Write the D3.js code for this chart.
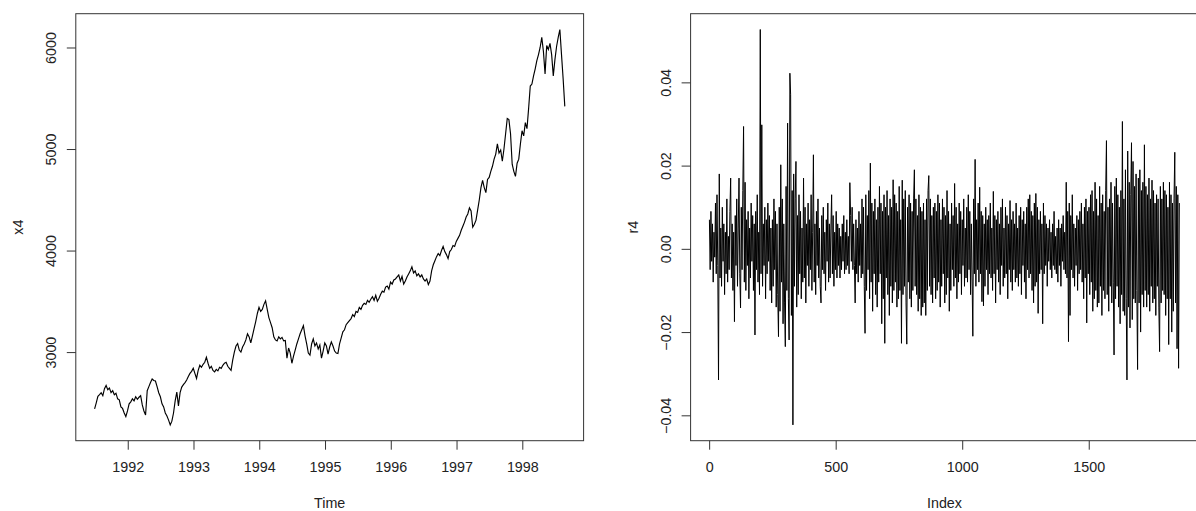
<!DOCTYPE html>
<html>
<head>
<meta charset="utf-8">
<script src="https://cdn.jsdelivr.net/npm/d3@7"></script>
<style>
  html, body { margin: 0; padding: 0; background: #fff; }
  svg { display: block; }
  text { font-family: "Liberation Sans", Arial, Helvetica, sans-serif; fill: #222; }
</style>
</head>
<body>
<svg id="chart" width="1196" height="511"></svg>
<script>
// FTSE daily closing index (x4), sampled evenly over the series span
const x4Start = 1991.4962;
const x4End = 1998.6462;
const x4 = [
  2441,2500,2565,2580,2600,2570,2640,2671,2630,2645,
  2600,2620,2580,2595,2540,2530,2460,2445,2400,2365,
  2420,2490,2510,2540,2520,2560,2535,2555,2570,2480,
  2420,2380,2620,2660,2700,2735,2720,2715,2660,2600,
  2560,2490,2460,2400,2370,2330,2283,2320,2400,2520,
  2605,2470,2600,2655,2680,2700,2725,2760,2790,2810,
  2840,2790,2740,2820,2870,2850,2880,2900,2950,2890,
  2840,2860,2820,2805,2830,2815,2850,2840,2870,2890,
  2900,2860,2840,2820,2920,3000,3060,3083,3020,3000,
  3050,3080,3120,3180,3150,3090,3160,3230,3300,3380,
  3440,3400,3420,3470,3505,3420,3340,3290,3240,3150,
  3120,3110,3150,3130,3145,3110,3115,2940,3040,2990,
  2890,2960,3020,3080,3130,3180,3220,3260,3160,3080,
  2990,2970,3080,3130,3060,3090,3030,3070,2940,3010,
  3090,3060,2980,3050,3100,3060,3010,2990,2985,3080,
  3140,3200,3220,3270,3290,3310,3330,3370,3350,3400,
  3390,3440,3420,3460,3480,3470,3510,3490,3520,3545,
  3510,3560,3500,3530,3570,3600,3590,3640,3650,3620,
  3690,3670,3710,3720,3740,3760,3700,3745,3670,3700,
  3740,3770,3800,3840,3780,3800,3750,3770,3740,3760,
  3720,3700,3720,3665,3700,3800,3860,3900,3940,3970,
  3950,4000,4040,3990,3960,3920,3990,4010,4050,4040,
  4090,4120,4150,4200,4240,4280,4330,4360,4420,4390,
  4230,4260,4300,4400,4500,4620,4690,4620,4570,4700,
  4720,4780,4830,4900,4950,5050,4960,4990,4880,5000,
  5150,5300,5290,5150,4850,4780,4730,4860,4900,5050,
  5180,5130,5260,5200,5400,5620,5640,5720,5790,5870,
  5930,6000,6100,5960,5740,6020,5980,6040,5930,5720,
  5880,6010,6100,6177,5930,5690,5420
];
const x4Ticks = [1992, 1993, 1994, 1995, 1996, 1997, 1998];
const x4YTicks = [3000, 4000, 5000, 6000];

// daily log returns (r4), one value every r4Step observations from index 1
const r4Length = 1859;
const r4Step = 3;
const r4 = [
  0.007,-0.005,0.009,-0.003,0.006,-0.008,0.004,-0.002,0.011,-0.006,
  0.013,-0.004,-0.0315,0.018,-0.007,0.005,-0.009,0.010,-0.003,0.006,
  -0.011,0.004,-0.006,0.012,-0.008,0.003,-0.005,0.009,0.017,-0.007,
  0.006,-0.010,0.004,-0.0175,0.008,-0.004,0.012,-0.009,0.005,0.017,
  -0.006,-0.0142,0.010,-0.005,0.014,0.0294,-0.008,0.016,-0.010,0.007,
  -0.004,0.009,-0.012,0.005,-0.007,0.011,-0.003,0.008,-0.010,0.006,
  -0.0207,0.009,-0.005,0.013,-0.008,0.004,-0.011,0.0527,-0.006,0.0298,
  -0.009,0.006,-0.004,0.010,-0.012,0.007,-0.006,0.011,-0.003,0.008,
  -0.010,0.005,-0.013,0.007,-0.009,0.012,-0.005,0.009,-0.014,0.006,
  -0.011,-0.0211,0.010,-0.015,0.0202,-0.008,0.012,-0.018,0.006,-0.013,
  -0.0235,0.015,-0.010,0.0302,-0.012,-0.0219,0.0422,0.0370,-0.016,0.014,
  -0.0423,0.018,-0.009,0.012,0.021,-0.014,0.008,-0.011,0.013,-0.006,
  0.009,-0.012,0.005,-0.008,0.017,-0.007,0.010,-0.013,0.006,-0.004,
  0.011,-0.009,0.007,-0.005,0.013,-0.010,0.004,0.0226,-0.008,0.006,
  -0.011,0.009,-0.004,0.012,-0.007,0.005,-0.009,-0.013,0.008,-0.005,
  0.010,-0.006,0.004,-0.010,0.007,-0.003,0.011,-0.008,0.006,-0.007,
  0.005,0.013,-0.006,0.008,-0.009,0.004,-0.005,0.009,-0.007,0.006,
  -0.004,0.005,-0.007,0.003,-0.005,0.006,-0.003,0.008,-0.006,0.004,
  -0.005,0.007,-0.004,0.003,-0.006,0.0159,0.008,-0.003,0.010,-0.005,
  0.006,-0.004,-0.013,0.007,-0.006,0.005,-0.008,0.009,-0.004,0.006,
  -0.007,0.012,-0.006,0.010,-0.009,-0.0203,0.013,-0.010,0.008,-0.005,
  0.014,-0.012,0.0206,-0.008,0.011,-0.015,0.009,-0.006,0.012,-0.011,
  0.007,-0.014,0.010,-0.008,0.015,-0.006,0.011,-0.018,0.009,-0.012,
  0.013,-0.0227,0.010,-0.007,0.014,-0.011,0.008,-0.016,0.012,-0.009,
  0.010,-0.013,0.0166,-0.010,0.013,-0.008,0.011,-0.014,0.009,-0.012,
  0.015,-0.010,0.007,-0.0227,0.0165,-0.011,0.012,-0.009,0.014,-0.013,
  -0.0229,0.010,-0.008,0.013,-0.012,0.011,-0.014,0.009,-0.010,0.012,
  0.019,-0.009,0.012,-0.011,0.008,-0.015,0.013,-0.012,0.010,-0.016,
  0.009,-0.014,0.011,-0.013,0.007,-0.016,0.012,-0.010,0.014,0.0176,
  -0.009,0.012,-0.011,0.008,-0.013,0.010,-0.007,0.011,-0.012,0.009,
  -0.010,0.013,-0.008,0.011,-0.014,0.007,-0.009,0.012,-0.006,0.010,
  -0.013,0.008,-0.011,0.014,-0.007,0.009,-0.015,0.006,-0.010,0.011,
  -0.005,0.008,-0.009,0.0157,-0.007,0.010,-0.012,0.006,-0.008,0.011,
  -0.006,0.009,-0.011,0.007,-0.004,0.012,-0.009,0.005,-0.007,0.010,
  -0.008,0.013,-0.005,0.009,-0.011,0.006,-0.007,-0.021,0.012,-0.006,
  0.0215,-0.009,0.007,-0.005,0.011,-0.008,0.0148,-0.006,0.009,-0.0127,
  0.008,-0.0137,0.006,-0.009,0.010,-0.005,0.007,-0.011,0.008,-0.006,
  0.011,-0.007,0.005,-0.010,0.0138,-0.006,0.008,-0.013,0.007,-0.005,
  0.009,-0.008,0.006,-0.011,0.010,-0.004,0.012,-0.009,0.005,-0.007,
  0.010,-0.006,0.008,-0.012,0.006,-0.005,0.0116,-0.008,0.007,-0.010,
  0.009,-0.005,0.006,-0.008,0.011,-0.007,0.005,-0.009,0.008,-0.006,
  0.010,-0.011,0.007,-0.004,0.009,-0.008,0.006,-0.012,0.010,-0.005,
  0.012,-0.007,0.013,-0.006,0.009,-0.010,0.008,-0.013,0.011,-0.009,
  0.0133,-0.008,0.010,-0.0155,0.007,-0.006,0.009,-0.005,0.006,-0.018,
  0.011,-0.006,0.008,-0.004,0.006,-0.009,0.005,-0.003,0.007,-0.005,
  0.004,-0.007,0.006,-0.004,0.009,-0.005,0.003,-0.006,0.005,-0.008,
  0.007,-0.004,0.005,-0.009,0.006,-0.003,0.008,-0.005,0.004,-0.006,
  0.016,-0.007,0.009,-0.0223,0.011,-0.016,0.008,-0.005,0.013,-0.007,
  0.006,-0.009,0.005,-0.004,0.008,-0.010,0.007,-0.006,0.009,-0.005,
  0.011,-0.008,0.006,-0.012,0.010,-0.007,0.012,-0.0178,0.009,-0.006,
  0.010,-0.011,0.013,-0.008,0.014,-0.015,0.009,-0.012,0.016,-0.010,
  0.012,-0.014,0.008,-0.013,0.015,-0.009,0.011,-0.016,0.013,-0.010,
  0.009,-0.012,0.014,0.026,-0.011,0.010,-0.015,0.012,-0.009,0.016,
  -0.013,0.011,-0.008,-0.0255,0.015,-0.012,0.017,-0.009,0.013,-0.014,
  0.010,-0.018,0.014,-0.011,0.0306,-0.015,0.012,-0.016,0.019,-0.012,
  -0.0315,0.0235,-0.014,0.016,-0.019,0.013,0.0255,-0.017,0.021,-0.012,
  0.015,-0.013,0.018,-0.010,-0.029,0.017,-0.013,0.019,-0.020,0.014,
  -0.011,0.016,-0.014,0.025,-0.010,0.015,-0.014,0.013,-0.011,0.017,
  -0.015,0.012,-0.009,0.0165,-0.013,0.014,-0.012,0.011,-0.016,0.013,
  -0.009,0.012,-0.014,-0.0247,0.015,-0.013,0.012,-0.010,0.016,-0.011,
  0.014,-0.016,0.013,-0.012,0.010,-0.023,0.016,-0.012,0.013,-0.020,
  0.011,-0.015,0.012,0.0232,-0.013,0.015,-0.024,0.013,-0.0287,0.011
];
const r4XTicks = [0, 500, 1000, 1500];
const r4YTicks = [-0.04, -0.02, 0.00, 0.02, 0.04];

const svg = d3.select("#chart");
const FONT = 14.3;

// R-style axis limits: data range widened by 4% on each side
function rLim(lo, hi) { const d = (hi - lo) * 0.04; return [lo - d, hi + d]; }

function drawPanel(o) {
  const g = svg.append("g");
  const x = d3.scaleLinear().domain(o.xlim).range([o.left, o.right]);
  const y = d3.scaleLinear().domain(o.ylim).range([o.bottom, o.top]);

  // series line
  g.append("path")
    .datum(o.points)
    .attr("fill", "none")
    .attr("stroke", "#000")
    .attr("stroke-width", o.lineWidth)
    .attr("stroke-linejoin", "miter")
    .attr("d", d3.line().x(d => x(d[0])).y(d => y(d[1])));

  // bottom axis
  const ax = g.append("g").attr("transform", `translate(0,${o.bottom})`)
    .call(d3.axisBottom(x).tickValues(o.xTicks).tickFormat(o.xFmt).tickSize(9).tickPadding(12.5));
  ax.select(".domain").remove();
  ax.selectAll(".tick line").attr("stroke", "#333");
  ax.selectAll(".tick text").style("font-size", FONT + "px").attr("fill", "#222");

  // left axis with rotated labels
  const ay = g.append("g").attr("transform", `translate(${o.left},0)`)
    .call(d3.axisLeft(y).tickValues(o.yTicks).tickFormat(o.yFmt).tickSize(9));
  ay.select(".domain").remove();
  ay.selectAll(".tick line").attr("stroke", "#333");
  ay.selectAll(".tick text")
    .attr("x", null).attr("y", null)
    .attr("text-anchor", "middle")
    .attr("dy", "0.35em")
    .attr("transform", "translate(-25,0) rotate(-90)")
    .style("font-size", FONT + "px")
    .attr("fill", "#222");

  // plot box
  g.append("rect")
    .attr("x", o.left).attr("y", o.top)
    .attr("width", o.right - o.left).attr("height", o.bottom - o.top)
    .attr("fill", "none").attr("stroke", "#333").attr("stroke-width", 1);

  // axis titles
  g.append("text")
    .attr("x", (o.left + o.right) / 2).attr("y", o.bottom + 67)
    .attr("text-anchor", "middle")
    .style("font-size", FONT + "px")
    .text(o.xLabel);
  g.append("text")
    .attr("transform", `translate(${o.left - 58},${(o.top + o.bottom) / 2}) rotate(-90)`)
    .attr("text-anchor", "middle").attr("dy", "0.35em")
    .style("font-size", FONT + "px")
    .text(o.yLabel);
}

// left panel: price level against time
const x4Times = x4.map((_, k) => x4Start + k * (x4End - x4Start) / (x4.length - 1));
drawPanel({
  left: 75.8, right: 583.6, top: 13.7, bottom: 440.7,
  xlim: rLim(x4Start, x4End),
  ylim: rLim(d3.min(x4), d3.max(x4)),
  points: x4.map((v, k) => [x4Times[k], v]),
  lineWidth: 1.15,
  xTicks: x4Ticks, xFmt: d3.format("d"),
  yTicks: x4YTicks, yFmt: d3.format("d"),
  xLabel: "Time", yLabel: "x4"
});

// right panel: returns against observation index
drawPanel({
  left: 690.6, right: 1198.4, top: 13.7, bottom: 440.7,
  xlim: rLim(1, r4Length),
  ylim: rLim(d3.min(r4), d3.max(r4)),
  points: r4.map((v, k) => [1 + k * r4Step, v]),
  lineWidth: 1.0,
  xTicks: r4XTicks, xFmt: d3.format("d"),
  yTicks: r4YTicks, yFmt: d3.format(".2f"),
  xLabel: "Index", yLabel: "r4"
});
</script>
</body>
</html>
